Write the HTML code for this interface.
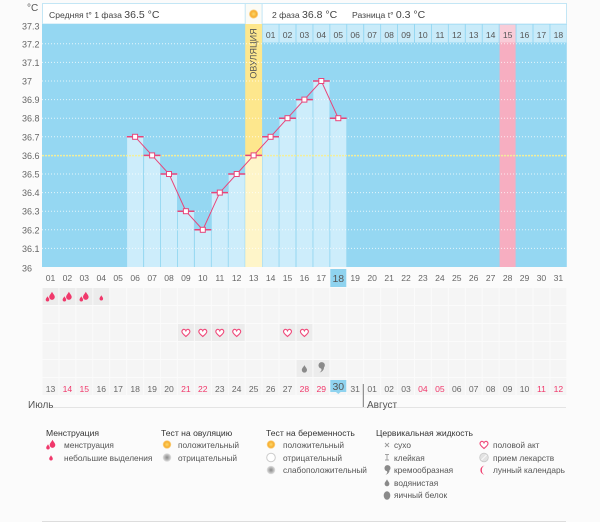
<!DOCTYPE html>
<html><head><meta charset="utf-8"><style>
html,body{margin:0;padding:0;background:#fbfbfb;}
svg{display:block;font-family:"Liberation Sans","DejaVu Sans",sans-serif;}
</style></head><body>
<svg width="600" height="522" viewBox="0 0 600 522" xmlns="http://www.w3.org/2000/svg">
<defs>
<pattern id="cells" x="42" y="288" width="16.93" height="18" patternUnits="userSpaceOnUse">
<rect x="0.5" y="0" width="16" height="17" fill="#f5f5f5"/>
</pattern>
<g id="bdrop"><path d="M0,-6 C1.5,-3 4,-1 4,1.5 A4,4 0 0 1 -4,1.5 C-4,-1 -1.5,-3 0,-6Z"/></g>
<g id="mens" fill="#f0386b"><use href="#bdrop" transform="translate(1.5,-1) scale(0.7)"/><use href="#bdrop" transform="translate(-3,2) scale(0.45)"/></g>
<g id="sdrop" fill="#f0386b"><use href="#bdrop" transform="scale(0.45)"/></g>
<path id="heart" d="M0,3.5 C-1,2.5 -4,0.5 -4,-1.5 C-4,-3 -2.5,-4 -1.3,-3.5 C-0.6,-3.2 -0.2,-2.7 0,-2.2 C0.2,-2.7 0.6,-3.2 1.3,-3.5 C2.5,-4 4,-3 4,-1.5 C4,0.5 1,2.5 0,3.5Z" fill="#fff" stroke="#f0497a" stroke-width="1.1"/>
<radialGradient id="sun" cx="0.5" cy="0.5" r="0.5"><stop offset="0" stop-color="#fbd86a"/><stop offset="0.7" stop-color="#f7ad2f"/><stop offset="1" stop-color="#fbe3b0"/></radialGradient>
<radialGradient id="gray" cx="0.5" cy="0.5" r="0.5"><stop offset="0" stop-color="#888"/><stop offset="0.6" stop-color="#bbb"/><stop offset="1" stop-color="#e6e6e6"/></radialGradient>
</defs>

<!-- header -->
<text x="27" y="11" font-size="10" fill="#555">°C</text>
<rect x="42.5" y="3.5" width="524" height="20.5" fill="#fff" stroke="#c3e6f5"/>
<rect x="245.2" y="4" width="16.9" height="20" fill="#fbfbf6"/>
<line x1="245.2" y1="3.5" x2="245.2" y2="24" stroke="#c3e6f5"/>
<line x1="262.1" y1="3.5" x2="262.1" y2="24" stroke="#c3e6f5"/>
<circle cx="253.6" cy="14" r="4.6" fill="url(#sun)"/>
<text x="49" y="18" font-size="8.6" fill="#444">Средняя t° 1 фаза <tspan font-size="10.5">36.5 °C</tspan></text>
<text x="272" y="18" font-size="8.6" fill="#444">2 фаза <tspan font-size="10.5">36.8 °C</tspan></text>
<text x="352" y="18" font-size="8.6" fill="#444">Разница t° <tspan font-size="10.5">0.3 °C</tspan></text>

<!-- plot background -->
<rect x="42" y="24" width="524.8" height="243" fill="#95d7f2"/>
<!-- phase 2 header cells -->
<g fill="#c9ebf9">
<rect x="262.6" y="24.5" width="16" height="18"/><rect x="279.5" y="24.5" width="16" height="18"/><rect x="296.5" y="24.5" width="16" height="18"/><rect x="313.4" y="24.5" width="16" height="18"/><rect x="330.3" y="24.5" width="16" height="18"/><rect x="347.2" y="24.5" width="16" height="18"/><rect x="364.2" y="24.5" width="16" height="18"/><rect x="381.1" y="24.5" width="16" height="18"/><rect x="398" y="24.5" width="16" height="18"/><rect x="415" y="24.5" width="16" height="18"/><rect x="431.9" y="24.5" width="16" height="18"/><rect x="448.8" y="24.5" width="16" height="18"/><rect x="465.8" y="24.5" width="16" height="18"/><rect x="482.7" y="24.5" width="16" height="18"/><rect x="516.5" y="24.5" width="16" height="18"/><rect x="533.5" y="24.5" width="16" height="18"/><rect x="550.4" y="24.5" width="16" height="18"/>
</g>
<rect x="499.6" y="24.5" width="16" height="18" fill="#f9ccd8"/>
<rect x="499.6" y="42.5" width="16" height="224.5" fill="#f7aec1"/>

<!-- ovulation column -->
<rect x="245.2" y="24" width="16.9" height="131.4" fill="#fde78d"/>
<rect x="245.2" y="155.4" width="16.9" height="111.6" fill="#fef5c9"/>
<text transform="translate(256.5,53.5) rotate(-90)" text-anchor="middle" font-size="9" fill="#555">ОВУЛЯЦИЯ</text>

<!-- bars -->
<g fill="#cdedfb">
<rect x="127.1" y="136.8" width="16" height="130.2"/>
<rect x="144.1" y="155.4" width="16" height="111.6"/>
<rect x="161" y="174" width="16" height="93"/>
<rect x="177.9" y="211.2" width="16" height="55.8"/>
<rect x="194.9" y="229.8" width="16" height="37.2"/>
<rect x="211.8" y="192.6" width="16" height="74.4"/>
<rect x="228.7" y="174" width="16" height="93"/>
<rect x="262.6" y="136.8" width="16" height="130.2"/>
<rect x="279.5" y="118.2" width="16" height="148.8"/>
<rect x="296.5" y="99.6" width="16" height="167.4"/>
<rect x="313.4" y="81" width="16" height="186"/>
<rect x="330.3" y="118.2" width="16" height="148.8"/>
</g>

<!-- grid lines -->
<g stroke="#fff" stroke-width="1" stroke-dasharray="1,2" opacity="0.75">
<line x1="42" y1="43.8" x2="567" y2="43.8"/><line x1="42" y1="62.4" x2="567" y2="62.4"/><line x1="42" y1="81" x2="567" y2="81"/><line x1="42" y1="99.6" x2="567" y2="99.6"/><line x1="42" y1="118.2" x2="567" y2="118.2"/><line x1="42" y1="136.8" x2="567" y2="136.8"/><line x1="42" y1="174" x2="567" y2="174"/><line x1="42" y1="192.6" x2="567" y2="192.6"/><line x1="42" y1="211.2" x2="567" y2="211.2"/><line x1="42" y1="229.8" x2="567" y2="229.8"/><line x1="42" y1="248.4" x2="567" y2="248.4"/>
</g>
<line x1="42" y1="155.6" x2="567" y2="155.6" stroke="#f3ee9a" stroke-width="1.5" stroke-dasharray="2,1"/>

<!-- phase 2 header numbers -->
<g font-size="8.6" fill="#555" text-anchor="middle">
<text x="270.6" y="38">01</text><text x="287.5" y="38">02</text><text x="304.4" y="38">03</text><text x="321.3" y="38">04</text><text x="338.3" y="38">05</text><text x="355.2" y="38">06</text><text x="372.1" y="38">07</text><text x="389.1" y="38">08</text><text x="406" y="38">09</text><text x="422.9" y="38">10</text><text x="439.9" y="38">11</text><text x="456.8" y="38">12</text><text x="473.7" y="38">13</text><text x="490.6" y="38">14</text><text x="507.6" y="38">15</text><text x="524.5" y="38">16</text><text x="541.4" y="38">17</text><text x="558.4" y="38">18</text>
</g>

<!-- y axis labels -->
<g font-size="9" fill="#666">
<text x="22" y="29.5">37.3</text><text x="22" y="47.3">37.2</text><text x="22" y="65.9">37.1</text><text x="22" y="84.5">37</text><text x="22" y="103.1">36.9</text><text x="22" y="121.7">36.8</text><text x="22" y="140.3">36.7</text><text x="22" y="158.9">36.6</text><text x="22" y="177.5">36.5</text><text x="22" y="196.1">36.4</text><text x="22" y="214.7">36.3</text><text x="22" y="233.3">36.2</text><text x="22" y="251.9">36.1</text><text x="22" y="271.5">36</text>
</g>

<!-- temperature line -->
<g stroke="#e8457a" stroke-width="1.5">
<line x1="126.7" y1="136.8" x2="143.6" y2="136.8"/><line x1="143.6" y1="155.4" x2="160.5" y2="155.4"/><line x1="160.5" y1="174" x2="177.4" y2="174"/><line x1="177.4" y1="211.2" x2="194.4" y2="211.2"/><line x1="194.4" y1="229.8" x2="211.3" y2="229.8"/><line x1="211.3" y1="192.6" x2="228.2" y2="192.6"/><line x1="228.2" y1="174" x2="245.2" y2="174"/><line x1="245.2" y1="155.4" x2="262.1" y2="155.4"/><line x1="262.1" y1="136.8" x2="279" y2="136.8"/><line x1="279" y1="118.2" x2="296" y2="118.2"/><line x1="296" y1="99.6" x2="312.9" y2="99.6"/><line x1="312.9" y1="81" x2="329.8" y2="81"/><line x1="329.8" y1="118.2" x2="346.7" y2="118.2"/>
</g>
<polyline fill="none" stroke="#e8457a" stroke-width="1" points="135.1,136.8 152.1,155.4 169,174 185.9,211.2 202.8,229.8 219.8,192.6 236.7,174 253.6,155.4 270.6,136.8 287.5,118.2 304.4,99.6 321.3,81 338.3,118.2"/>
<g fill="#fff" stroke="#e8457a" stroke-width="1">
<rect x="132.6" y="134.3" width="5" height="5"/><rect x="149.6" y="152.9" width="5" height="5"/><rect x="166.5" y="171.5" width="5" height="5"/><rect x="183.4" y="208.7" width="5" height="5"/><rect x="200.3" y="227.3" width="5" height="5"/><rect x="217.3" y="190.1" width="5" height="5"/><rect x="234.2" y="171.5" width="5" height="5"/><rect x="251.1" y="152.9" width="5" height="5"/><rect x="268.1" y="134.3" width="5" height="5"/><rect x="285" y="115.7" width="5" height="5"/><rect x="301.9" y="97.1" width="5" height="5"/><rect x="318.8" y="78.5" width="5" height="5"/><rect x="335.8" y="115.7" width="5" height="5"/>
</g>

<!-- x axis day labels -->
<rect x="330.3" y="269" width="16" height="18" fill="#8fd3ef"/>
<g font-size="8.6" fill="#666" text-anchor="middle">
<text x="50.5" y="281">01</text><text x="67.4" y="281">02</text><text x="84.3" y="281">03</text><text x="101.3" y="281">04</text><text x="118.2" y="281">05</text><text x="135.1" y="281">06</text><text x="152.1" y="281">07</text><text x="169" y="281">08</text><text x="185.9" y="281">09</text><text x="202.8" y="281">10</text><text x="219.8" y="281">11</text><text x="236.7" y="281">12</text><text x="253.6" y="281">13</text><text x="270.6" y="281">14</text><text x="287.5" y="281">15</text><text x="304.4" y="281">16</text><text x="321.3" y="281">17</text><text x="338.3" y="282" font-size="10.5" fill="#555">18</text><text x="355.2" y="281">19</text><text x="372.1" y="281">20</text><text x="389.1" y="281">21</text><text x="406" y="281">22</text><text x="422.9" y="281">23</text><text x="439.9" y="281">24</text><text x="456.8" y="281">25</text><text x="473.7" y="281">26</text><text x="490.6" y="281">27</text><text x="507.6" y="281">28</text><text x="524.5" y="281">29</text><text x="541.4" y="281">30</text><text x="558.4" y="281">31</text>
</g>

<!-- symptom grid -->
<rect x="42" y="288" width="524.8" height="107" fill="url(#cells)"/>
<g fill="#ececec">
<rect x="42.5" y="288" width="16" height="17"/><rect x="59.4" y="288" width="16" height="17"/><rect x="76.4" y="288" width="16" height="17"/><rect x="93.3" y="288" width="16" height="17"/>
<rect x="177.9" y="324" width="16" height="17"/><rect x="194.9" y="324" width="16" height="17"/><rect x="211.8" y="324" width="16" height="17"/><rect x="228.7" y="324" width="16" height="17"/><rect x="279.5" y="324" width="16" height="17"/><rect x="296.5" y="324" width="16" height="17"/>
<rect x="296.5" y="360" width="16" height="17"/><rect x="313.4" y="360" width="16" height="17"/>
</g>
<use href="#mens" x="50.5" y="297"/><use href="#mens" x="67.4" y="297"/><use href="#mens" x="84.3" y="297"/><use href="#sdrop" x="101.3" y="298"/>
<use href="#heart" x="185.9" y="333"/><use href="#heart" x="202.8" y="333"/><use href="#heart" x="219.8" y="333"/><use href="#heart" x="236.7" y="333"/><use href="#heart" x="287.5" y="333"/><use href="#heart" x="304.4" y="333"/>
<g fill="#8a8a8a">
<use href="#bdrop" transform="translate(304.4,369) scale(0.65)"/>
<path d="M318.5,365 a3.2,3.2 0 1 1 5.5,2.5 c0,2.5 -2,4.5 -4.5,5 c2,-1.5 2.5,-3 1.5,-4 a3.2,3.2 0 0 1 -2.5,-3.5z"/>
</g>

<!-- bottom date row -->
<rect x="330.3" y="380" width="16" height="12" fill="#8fd3ef"/>
<path d="M336,392 l2.3,2 l2.3,-2z" fill="#8fd3ef"/>
<g font-size="8.6" fill="#666" text-anchor="middle">
<text x="50.5" y="392">13</text><text x="67.4" y="392" fill="#f0386b">14</text><text x="84.3" y="392" fill="#f0386b">15</text><text x="101.3" y="392">16</text><text x="118.2" y="392">17</text><text x="135.1" y="392">18</text><text x="152.1" y="392">19</text><text x="169" y="392">20</text><text x="185.9" y="392" fill="#f0386b">21</text><text x="202.8" y="392" fill="#f0386b">22</text><text x="219.8" y="392">23</text><text x="236.7" y="392">24</text><text x="253.6" y="392">25</text><text x="270.6" y="392">26</text><text x="287.5" y="392">27</text><text x="304.4" y="392" fill="#f0386b">28</text><text x="321.3" y="392" fill="#f0386b">29</text><text x="338.3" y="390" font-size="10.5" fill="#555">30</text><text x="355.2" y="392">31</text><text x="372.1" y="392">01</text><text x="389.1" y="392">02</text><text x="406" y="392">03</text><text x="422.9" y="392" fill="#f0386b">04</text><text x="439.9" y="392" fill="#f0386b">05</text><text x="456.8" y="392">06</text><text x="473.7" y="392">07</text><text x="490.6" y="392">08</text><text x="507.6" y="392">09</text><text x="524.5" y="392">10</text><text x="541.4" y="392" fill="#f0386b">11</text><text x="558.4" y="392" fill="#f0386b">12</text>
</g>
<line x1="53" y1="407.5" x2="566" y2="407.5" stroke="#e4e4e4"/>
<line x1="363.3" y1="384" x2="363.3" y2="407" stroke="#777" stroke-width="1"/>
<text x="28" y="408" font-size="10" fill="#555">Июль</text>
<text x="367" y="408" font-size="10" fill="#555">Август</text>

<!-- legend -->
<g font-size="8.6" fill="#333">
<text x="46" y="436">Менструация</text>
<text x="161" y="436">Тест на овуляцию</text>
<text x="266" y="436">Тест на беременность</text>
<text x="376" y="436">Цервикальная жидкость</text>
</g>
<g font-size="8.3" fill="#555">
<text x="64" y="448">менструация</text>
<text x="64" y="461">небольшие выделения</text>
<text x="178" y="448">положительный</text>
<text x="178" y="461">отрицательный</text>
<text x="283" y="448">положительный</text>
<text x="283" y="461">отрицательный</text>
<text x="283" y="473">слабоположительный</text>
<text x="394" y="448">сухо</text>
<text x="394" y="461">клейкая</text>
<text x="394" y="473">кремообразная</text>
<text x="394" y="486">водянистая</text>
<text x="394" y="498">яичный белок</text>
<text x="493" y="448">половой акт</text>
<text x="493" y="461">прием лекарств</text>
<text x="493" y="473">лунный календарь</text>
</g>
<use href="#mens" transform="translate(51,445)"/>
<use href="#sdrop" x="51" y="458"/>
<circle cx="167" cy="444.5" r="4.3" fill="url(#sun)"/>
<circle cx="167" cy="457.5" r="4.3" fill="url(#gray)"/>
<circle cx="271" cy="444.5" r="4.3" fill="url(#sun)"/>
<circle cx="271" cy="457.5" r="4.3" fill="#fff" stroke="#ccc"/>
<circle cx="271" cy="470" r="4.3" fill="url(#gray)"/>
<g stroke="#999" stroke-width="0.9">
<line x1="385" y1="443" x2="389" y2="447"/><line x1="389" y1="443" x2="385" y2="447"/>
<line x1="385" y1="454.5" x2="389" y2="454.5"/><line x1="387" y1="454.5" x2="387" y2="460"/><line x1="385" y1="460" x2="389" y2="460"/>
</g>
<g fill="#8a8a8a">
<path d="M384.5,468 a3,3 0 1 1 5,2.3 c0,2.3 -1.8,4 -4,4.5 c1.8,-1.4 2.2,-2.8 1.3,-3.7 a3,3 0 0 1 -2.3,-3.1z"/>
<use href="#bdrop" transform="translate(387,483) scale(0.6)"/>
<ellipse cx="387" cy="495.5" rx="3.3" ry="4.3"/>
</g>
<use href="#heart" x="484" y="445"/>
<circle cx="484" cy="457.5" r="4.3" fill="#e2e2e2" stroke="#c8c8c8" stroke-width="0.8"/>
<line x1="481.5" y1="460" x2="486.5" y2="455" stroke="#fff" stroke-width="0.8"/>
<path d="M485,465.5 a4.6,4.6 0 1 0 0,9.2 a3.2,4.6 0 0 1 0,-9.2z" fill="#f0386b"/>

<line x1="42" y1="521.5" x2="566" y2="521.5" stroke="#ddd"/>
</svg>
</body></html>
